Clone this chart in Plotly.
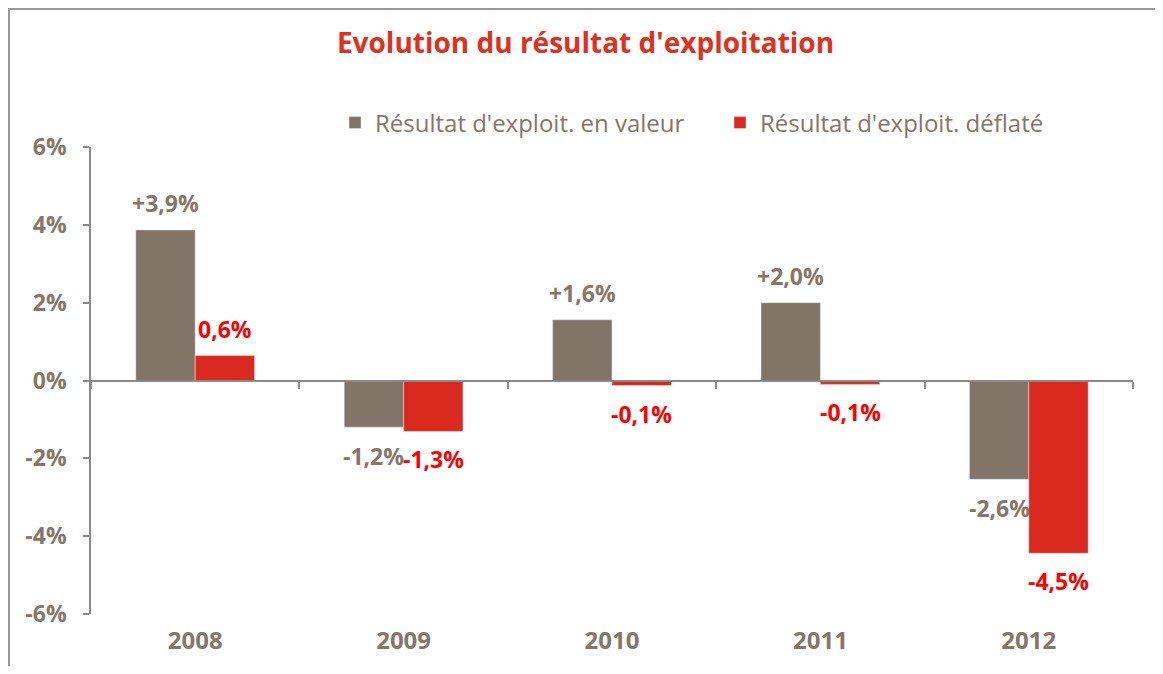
import plotly.graph_objects as go

years = ["2008", "2009", "2010", "2011", "2012"]
valeur = [3.87, -1.2, 1.56, 2.0, -2.54]
deflate = [0.64, -1.31, -0.13, -0.1, -4.44]
valeur_labels = ["+3,9%", "-1,2%", "+1,6%", "+2,0%", "-2,6%"]
deflate_labels = ["0,6%", "-1,3%", "-0,1%", "-0,1%", "-4,5%"]
name_valeur = "Résultat d'exploit. en valeur"
name_deflate = "Résultat d'exploit. déflaté"
y_ticks = [-6, -4, -2, 0, 2, 4, 6]
y_ticktext = ["-6%", "-4%", "-2%", "0%", "2%", "4%", "6%"]

GRAY = "#827467"
RED = "#DA291F"
TXT = "#857668"
AXIS = "#8a8a8a"
FONT = "Open Sans"

fig = go.Figure()
fig.add_trace(go.Bar(x=years, y=valeur, name=name_valeur, marker_color=GRAY,
                     hoverinfo="skip"))
fig.add_trace(go.Bar(x=years, y=deflate, name=name_deflate, marker_color=RED,
                     hoverinfo="skip"))
# invisible helper trace to register categories on the zero-line axis
fig.add_trace(go.Scatter(x=years, y=[0] * len(years), xaxis="x2", mode="markers",
                         marker=dict(opacity=0), showlegend=False, hoverinfo="skip"))

# page has an 8px body margin: figure coords = page coords - 8
W, H = 1155, 658
L, R, T, B = 83, 30, 139, 52
pw = W - L - R
ph = H - T - B
cat_w = pw / len(years)
bargap = 0.43
bar_w = cat_w * (1 - bargap) / 2

annotations = []
for i, (v, lab) in enumerate(zip(valeur, valeur_labels)):
    annotations.append(dict(x=i, y=v, xref="x", yref="y", text="<b>" + lab + "</b>",
                            showarrow=False,
                            xshift=-bar_w / 2, yshift=27 if v >= 0 else -29,
                            yanchor="middle",
                            font=dict(family=FONT, size=23, color=TXT)))
for i, (v, lab) in enumerate(zip(deflate, deflate_labels)):
    annotations.append(dict(x=i, y=v, xref="x", yref="y", text="<b>" + lab + "</b>",
                            showarrow=False,
                            xshift=bar_w / 2, yshift=27 if v >= 0 else -28,
                            yanchor="middle",
                            font=dict(family=FONT, size=23, color="#FF0000")))

fig.update_layout(
    width=W, height=H,
    margin=dict(l=L, r=R, t=T, b=B, autoexpand=False),
    paper_bgcolor="white", plot_bgcolor="white",
    barmode="group", bargap=bargap, bargroupgap=0,
    title=dict(text="<b>Evolution du résultat d'exploitation</b>", x=0.5, xanchor="center",
               xref="container", y=1 - 35 / H, yanchor="middle",
               font=dict(family=FONT, size=28, color="#E0301E")),
    legend=dict(orientation="h", x=(712 - L) / pw, xanchor="center",
                y=(H - B - 115) / ph, yanchor="middle",
                font=dict(family=FONT, size=24, color=TXT),
                itemwidth=30, entrywidth=340),
    xaxis=dict(type="category", categoryorder="array", categoryarray=years,
               range=[-0.5, len(years) - 0.5],
               showline=False, ticks="", ticklen=0,
               tickfont=dict(family=FONT, size=24, color=TXT),
               ticktext=["<b>" + y + "</b>" for y in years], tickvals=years,
               ticklabelstandoff=10,
               showgrid=False, zeroline=False),
    xaxis2=dict(type="category", categoryorder="array", categoryarray=years,
                range=[-0.5, len(years) - 0.5], overlaying="x",
                anchor="free", position=0.5,
                showline=True, linecolor=AXIS, linewidth=2,
                ticks="outside", tickson="boundaries", ticklen=7, tickcolor=AXIS,
                tickwidth=1.5, showticklabels=False,
                showgrid=False, zeroline=False),
    yaxis=dict(range=[-6, 6], tickvals=y_ticks,
               ticktext=["<b>" + t + "</b>" for t in y_ticktext],
               showline=True, linecolor=AXIS, linewidth=1.5,
               ticks="outside", ticklen=6, tickcolor=AXIS, tickwidth=1.5,
               ticklabelstandoff=12,
               tickfont=dict(family=FONT, size=23, color=TXT),
               showgrid=False, zeroline=False),
    annotations=annotations,
    shapes=[dict(type="rect", xref="paper", yref="paper",
                 x0=-(L - 1) / pw, x1=(W - 2 - L) / pw,
                 y0=-(B + 20) / ph, y1=(H - B - 1) / ph,
                 line=dict(color="#999999", width=2), fillcolor="rgba(0,0,0,0)",
                 layer="below")],
)

fig.write_html("out.html")
